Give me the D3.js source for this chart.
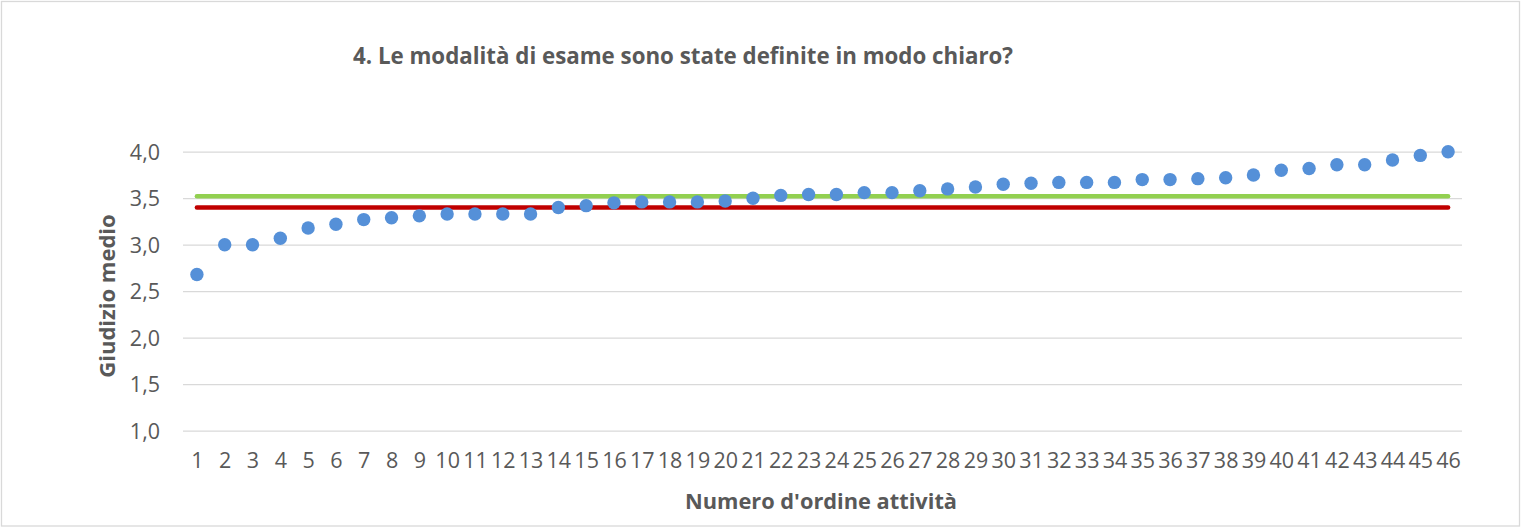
<!DOCTYPE html>
<html>
<head>
<meta charset="utf-8">
<script src="https://cdn.jsdelivr.net/npm/d3@7"></script>
<style>
  body { margin: 0; background: #fff; }
  svg text { font-family: "Open Sans", Lato, sans-serif; fill: #595959; }
</style>
</head>
<body>
<svg></svg>
<script>
/* jslint esversion:6 */

// values
var activities = d3.range(1, 47);
var scores = [
  2.68, 3.00, 3.00, 3.07, 3.18, 3.22, 3.27, 3.29, 3.31, 3.33,
  3.33, 3.33, 3.33, 3.40, 3.42, 3.45, 3.46, 3.46, 3.46, 3.47,
  3.50, 3.53, 3.54, 3.54, 3.56, 3.56, 3.58, 3.60, 3.62, 3.65,
  3.66, 3.67, 3.67, 3.67, 3.70, 3.70, 3.71, 3.72, 3.75, 3.80,
  3.82, 3.86, 3.86, 3.91, 3.96, 4.00
];
var yTicks = [1.0, 1.5, 2.0, 2.5, 3.0, 3.5, 4.0];
var refValues = [3.52, 3.40];   // green line, red line
var refColors = ["#92d050", "#c00000"];

var titleText = "4. Le modalità di esame sono state definite in modo chiaro?";
var xTitle = "Numero d'ordine attività";
var yTitle = "Giudizio medio";

document.addEventListener("DOMContentLoaded", function() {

  var width = 1522;
  var height = 527;
  var left = 183, right = 1462, top = 151.7, bottom = 430.7;

  var data = activities.map((a, i) => ({ n: a, v: scores[i] }));

  var svg = d3.select("svg")
      .attr("width", width)
      .attr("height", height);

  svg.append("rect")
      .attr("x", 1.5)
      .attr("y", 1.5)
      .attr("width", width - 4)
      .attr("height", height - 2.5)
      .attr("fill", "#fff")
      .attr("stroke", "#d9d9d9")
      .attr("stroke-width", 1.3);

  var xScale = d3.scalePoint()
                 .domain(activities)
                 .range([left, right])
                 .padding(0.5);

  var yScale = d3.scaleLinear()
                 .domain([1, 4])
                 .range([bottom, top]);

  // gridlines + y labels
  var yAxis = d3.axisLeft(yScale)
                .tickValues(yTicks)
                .tickSize(-(right - left))
                .tickPadding(23)
                .tickFormat(d => d3.format(".1f")(d).replace(".", ","));

  var gy = svg.append("g")
      .attr("transform", "translate(" + left + ",0)")
      .call(yAxis);
  gy.select(".domain").remove();
  gy.selectAll(".tick line")
      .attr("stroke", "#d9d9d9")
      .attr("stroke-width", 1.3);
  gy.selectAll(".tick text")
      .style("font-size", "21.5px")
      .attr("dy", "0.35em");

  var xAxis = d3.axisBottom(xScale)
                .tickSize(0)
                .tickPadding(22);

  var gx = svg.append("g")
      .attr("transform", "translate(0," + bottom + ")")
      .call(xAxis);
  gx.select(".domain").remove();
  gx.selectAll(".tick text")
      .style("font-size", "21.5px")
      .attr("dy", "0.71em");

  // reference lines
  svg.selectAll(".ref")
    .data(refValues)
    .enter()
    .append("line")
      .attr("class", "ref")
      .attr("x1", xScale(activities[0]))
      .attr("x2", xScale(activities[activities.length - 1]))
      .attr("y1", d => yScale(d))
      .attr("y2", d => yScale(d))
      .attr("stroke", (d, i) => refColors[i])
      .attr("stroke-width", 4.5)
      .attr("stroke-linecap", "round");

  svg.selectAll("circle")
    .data(data)
    .enter()
    .append("circle")
      .attr("cx", d => xScale(d.n))
      .attr("cy", d => yScale(d.v))
      .attr("r", 6.7)
      .attr("fill", "#5590d8");

  svg.append("text")
      .text(titleText)
      .attr("x", 683)
      .attr("y", 64)
      .style("text-anchor", "middle")
      .style("font-weight", "bold")
      .style("font-size", "22.3px");

  svg.append("text")
      .text(xTitle)
      .attr("x", 821)
      .attr("y", 509)
      .style("text-anchor", "middle")
      .style("font-weight", "bold")
      .style("font-size", "21.8px");

  svg.append("text")
      .text(yTitle)
      .attr("transform", "translate(115,296) rotate(-90)")
      .style("text-anchor", "middle")
      .style("font-weight", "bold")
      .style("font-size", "22px");
});
</script>
</body>
</html>
